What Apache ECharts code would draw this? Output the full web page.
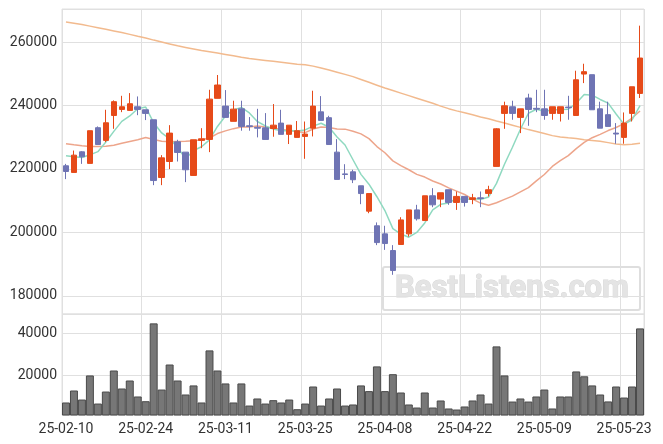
<!DOCTYPE html>
<html>
<head>
<meta charset="utf-8">
<script src="https://cdn.jsdelivr.net/npm/echarts@6/dist/echarts.min.js"></script>
<style>
html,body{margin:0;padding:0;background:#fff;}
#chart{width:663px;height:444px;}
</style>
</head>
<body>
<div id="chart"></div>
<script>
const dates = ['25-02-10','25-02-11','25-02-12','25-02-13','25-02-14',
'25-02-17','25-02-18','25-02-19','25-02-20','25-02-21',
'25-02-24','25-02-25','25-02-26','25-02-27','25-02-28',
'25-03-04','25-03-05','25-03-06','25-03-07',
'25-03-10','25-03-11','25-03-12','25-03-13','25-03-14',
'25-03-17','25-03-18','25-03-19','25-03-20','25-03-21',
'25-03-24','25-03-25','25-03-26','25-03-27','25-03-28',
'25-03-31','25-04-01','25-04-02','25-04-03','25-04-04',
'25-04-07','25-04-08','25-04-09','25-04-10','25-04-11',
'25-04-14','25-04-15','25-04-16','25-04-17','25-04-18',
'25-04-21','25-04-22','25-04-23','25-04-24','25-04-25',
'25-04-28','25-04-29','25-04-30','25-05-02',
'25-05-07','25-05-08','25-05-09',
'25-05-12','25-05-13','25-05-14','25-05-15','25-05-16',
'25-05-19','25-05-20','25-05-21','25-05-22','25-05-23',
'25-05-26','25-05-27'];

const openV = [221000,218900,225400,221750,233000,229000,236850,238750,238450,239600,
238650,235500,217300,222350,228550,225300,217950,229000,229300,242250,
239800,235000,238950,233600,233100,232950,232750,234450,230900,229950,
230250,232850,238000,236150,225300,218450,219100,214700,206700,202100,
199550,194300,196200,199550,207100,203750,211550,210500,213450,209450,
211350,210400,210900,212300,220800,237500,239600,236250,242350,239100,
238950,237500,237500,239500,236850,249900,249700,238950,237100,231300,
229950,237500,243800];
const closeV = [219200,224350,223850,232050,227700,234550,241200,239600,240550,238750,
237500,216350,223500,231300,225200,219750,229200,229500,242000,246450,
236250,238850,233400,233400,232850,229300,233800,230900,233800,232050,
231000,239800,235300,227700,216700,218250,216600,212250,212250,196800,
196500,188000,203950,207100,204300,211550,208700,212500,209450,211350,
209450,210900,210700,213450,232650,239900,237500,238950,238750,238850,
236850,239600,239600,239300,248100,250650,238650,232850,233400,231000,
234450,245900,254950];
const lowV = [216800,218900,221600,221750,227700,228450,232650,237900,238300,236950,
235400,214900,214900,219950,222350,215850,217950,226550,225300,242250,
236250,235000,232050,232050,229950,229300,230150,230900,227850,229950,
223200,230250,235300,227700,216700,216800,215550,208900,206050,196000,
194500,186650,196200,198700,203750,203750,207950,207950,208700,207100,
208150,208900,207950,211350,220800,232650,235500,231300,233600,237900,
235500,235500,234950,235500,236850,247050,238650,232850,233400,227950,
227950,234950,242350];
const highV = [221600,225800,225600,232050,233400,238650,241600,243050,243900,242850,
238650,235500,224350,233800,229200,225300,229200,232850,244950,249600,
244850,241500,241500,236350,238950,237600,240450,238650,233800,235100,
234950,244650,242950,236750,229400,221500,219750,214700,212250,203150,
202100,196000,204800,207100,208700,211550,213950,212500,213450,212900,
211350,212150,212900,214700,232850,241200,241500,238950,243700,244950,
244950,239600,239600,243050,250950,253150,249700,241200,241200,234450,
237800,245900,265150];
const ma5 = [224150,223850,223600,224450,225450,228500,231850,235000,236700,238950,
239500,234550,231350,229500,226800,223200,225800,227000,229150,233400,
236700,238600,239400,237650,234950,233550,232550,232050,232150,231950,
232300,233500,234400,233150,230100,227550,222900,218300,215200,211250,
206900,201200,199500,198500,200000,203000,207100,208850,209300,210700,
210300,210700,210350,211150,215450,221500,226850,232500,237550,238800,
238200,238600,238750,238850,240700,243450,243250,241900,240750,237300,
234050,235500,239950];
const ma20 = [227950,227600,227300,227100,227050,227150,227500,228100,228650,229200,
229900,229300,228700,228600,228650,228700,228850,229200,229750,231150,
232000,232700,233200,233250,233500,233250,232900,232450,232100,231750,
231450,232600,233200,233050,232600,232550,231900,231050,229550,227050,
225100,222550,221050,219750,218300,217450,216200,215250,214050,213000,
211950,210500,209250,208550,209350,210400,211450,212800,214100,216250,
218250,220800,222600,224200,226400,228350,229850,230900,232100,233050,
234300,236050,238250];
const maLong = [266300,265900,265500,265000,264500,264000,263500,263000,262400,261800,
261250,260600,260000,259400,258800,258300,257800,257300,256900,256500,
256100,255700,255200,254800,254500,254200,253900,253600,253300,253000,
252800,252400,251800,251200,250500,249800,249100,248200,247300,246400,
245500,244700,243900,243100,242300,241500,240700,239800,239000,238300,
237700,237100,236400,235800,235100,234500,233800,233100,232400,231800,
231200,230500,230100,229800,229600,229200,229000,228700,228300,227900,
227600,227800,228100];
const volume = [7150,12850,8550,20000,6650,12350,22350,13800,17600,10000,
7750,44750,13300,25200,17600,10950,15250,7150,31900,22350,
16200,7150,16200,5700,9050,6650,8250,7150,8550,3950,
6650,14750,5700,9050,13800,5700,6200,15250,12550,24300,
12550,20600,11900,6200,4750,11900,4750,8100,4300,3800,
5250,8100,10950,6650,33800,20000,7600,9050,7600,10000,
13300,4300,10000,10000,21900,19600,15250,10950,7650,14750,
9500,14750,42350];

const candles = dates.map((d, i) => [openV[i], closeV[i], lowV[i], highV[i]]);

const UP = '#e64a19', DOWN = '#6f74b4';
const gridLine = '#e0e0e0';
const labelStyle = { color: '#333', fontSize: 14, fontFamily: 'Roboto, sans-serif' };
const plain = v => String(Math.round(v));

const chart = echarts.init(document.getElementById('chart'), null, { renderer: 'canvas' });
chart.setOption({
  animation: false,
  backgroundColor: '#fff',
  grid: [
    { left: 62, right: 19, top: 9, height: 305, show: true, borderColor: gridLine, borderWidth: 1 },
    { left: 62, right: 19, top: 314, height: 101, show: true, borderColor: gridLine, borderWidth: 1 }
  ],
  xAxis: [
    { type: 'category', gridIndex: 0, data: dates, boundaryGap: true,
      axisLine: { show: false }, axisTick: { show: false }, axisLabel: { show: false },
      splitLine: { show: true, interval: 9, lineStyle: { color: gridLine } } },
    { type: 'category', gridIndex: 1, data: dates, boundaryGap: true,
      axisLine: { show: false }, axisTick: { show: false },
      axisLabel: Object.assign({ interval: 9, margin: 7 }, labelStyle),
      splitLine: { show: true, interval: 9, lineStyle: { color: gridLine } } }
  ],
  yAxis: [
    { type: 'value', gridIndex: 0, min: 174300, max: 270400, splitNumber: 5,
      axisLine: { show: false }, axisTick: { show: false },
      axisLabel: Object.assign({ margin: 5, showMinLabel: false, showMaxLabel: false, formatter: plain }, labelStyle),
      splitLine: { lineStyle: { color: gridLine } } },
    { type: 'value', gridIndex: 1, min: 1200, max: 49200, splitNumber: 2,
      axisLine: { show: false }, axisTick: { show: false },
      axisLabel: Object.assign({ margin: 5, showMinLabel: false, showMaxLabel: false, formatter: plain }, labelStyle),
      splitLine: { lineStyle: { color: gridLine } } }
  ],
  graphic: [
    { type: 'rect', z: 0, shape: { x: 383, y: 267, width: 257, height: 43, r: 2 },
      style: { fill: 'none', stroke: '#dedede', lineWidth: 2 } },
    { type: 'text', z: 0, x: 512, y: 289,
      style: { text: 'BestListens.com', font: 'bold 31px Roboto, sans-serif', fill: '#e4e4e4',
               stroke: '#d8d8d8', lineWidth: 1, align: 'center', verticalAlign: 'middle' } }
  ],
  series: [
    { type: 'candlestick', xAxisIndex: 0, yAxisIndex: 0, data: candles, barWidth: 6, z: 5,
      itemStyle: { color: UP, color0: DOWN, borderColor: UP, borderColor0: DOWN, borderWidth: 1 } },
    { type: 'line', xAxisIndex: 0, yAxisIndex: 0, data: maLong, showSymbol: false, z: 3,
      lineStyle: { color: '#f2ba8e', width: 1.5 } },
    { type: 'line', xAxisIndex: 0, yAxisIndex: 0, data: ma20, showSymbol: false, z: 3,
      lineStyle: { color: '#eda58b', width: 1.5 } },
    { type: 'line', xAxisIndex: 0, yAxisIndex: 0, data: ma5, showSymbol: false, z: 3,
      lineStyle: { color: '#8fd9c0', width: 1.5 } },
    { type: 'bar', xAxisIndex: 1, yAxisIndex: 1, data: volume, barWidth: '100%',
      itemStyle: { color: '#777777', borderColor: '#4a4a4a', borderWidth: 1 } }
  ]
});
</script>
</body>
</html>
